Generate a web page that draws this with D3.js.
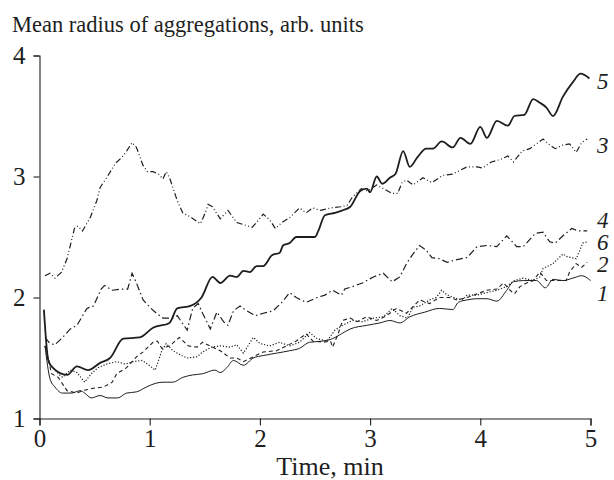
<!DOCTYPE html>
<meta charset="utf-8">
<style>
body { margin: 0; background: #fff; }
svg { font-family: "Liberation Serif", "Times New Roman", serif; }
</style>
<body>
<script src="https://cdn.jsdelivr.net/npm/d3@7"></script>
<script>

// [time (min), mean radius], one array per curve
var series1 = [[0.05,1.60],[0.095,1.33],[0.14,1.26],[0.21,1.21],[0.29,1.21],[0.37,1.23],[0.41,1.21],[0.47,1.17],[0.55,1.19],[0.62,1.17],[0.71,1.17],[0.79,1.21],[0.88,1.22],[0.97,1.26],[1.05,1.29],[1.12,1.30],[1.21,1.30],[1.30,1.34],[1.39,1.36],[1.48,1.37],[1.59,1.40],[1.64,1.38],[1.70,1.42],[1.76,1.48],[1.85,1.44],[1.94,1.50],[2.03,1.52],[2.15,1.54],[2.27,1.56],[2.36,1.58],[2.45,1.63],[2.57,1.64],[2.66,1.66],[2.74,1.70],[2.82,1.74],[2.97,1.77],[3.09,1.79],[3.18,1.81],[3.27,1.79],[3.36,1.84],[3.50,1.88],[3.63,1.91],[3.75,1.90],[3.80,1.96],[3.88,1.98],[3.97,1.99],[4.06,1.99],[4.15,1.97],[4.24,2.06],[4.30,2.13],[4.39,2.14],[4.51,2.14],[4.59,2.08],[4.66,2.15],[4.75,2.14],[4.84,2.16],[4.92,2.18],[5.00,2.14]];

var series2 = [[0.05,1.60],[0.11,1.37],[0.17,1.34],[0.25,1.23],[0.34,1.21],[0.39,1.23],[0.49,1.25],[0.58,1.26],[0.66,1.30],[0.70,1.37],[0.79,1.42],[0.88,1.51],[0.94,1.55],[1.03,1.63],[1.07,1.64],[1.11,1.58],[1.18,1.60],[1.27,1.67],[1.35,1.60],[1.43,1.59],[1.48,1.63],[1.57,1.59],[1.64,1.56],[1.73,1.50],[1.79,1.50],[1.85,1.47],[1.94,1.51],[2.03,1.55],[2.15,1.56],[2.24,1.60],[2.33,1.64],[2.42,1.70],[2.48,1.64],[2.57,1.63],[2.64,1.64],[2.66,1.59],[2.71,1.70],[2.75,1.81],[2.82,1.83],[2.88,1.80],[2.97,1.84],[3.06,1.81],[3.15,1.85],[3.24,1.91],[3.33,1.87],[3.45,1.98],[3.54,1.95],[3.63,2.00],[3.72,2.00],[3.79,1.98],[3.88,2.00],[3.97,2.03],[4.06,2.06],[4.15,2.07],[4.21,2.12],[4.27,2.06],[4.31,2.03],[4.36,2.09],[4.42,2.12],[4.48,2.14],[4.54,2.21],[4.60,2.14],[4.69,2.14],[4.78,2.14],[4.81,2.21],[4.87,2.28],[4.92,2.25],[4.97,2.29]];

var series3 = [[0.05,2.18],[0.095,2.20],[0.14,2.16],[0.20,2.21],[0.25,2.32],[0.29,2.47],[0.32,2.58],[0.35,2.59],[0.39,2.55],[0.46,2.66],[0.52,2.80],[0.55,2.91],[0.61,2.99],[0.69,3.11],[0.75,3.16],[0.79,3.21],[0.84,3.28],[0.88,3.24],[0.94,3.09],[0.98,3.04],[1.03,3.04],[1.08,3.02],[1.12,2.98],[1.15,3.04],[1.18,2.99],[1.25,2.80],[1.30,2.70],[1.38,2.66],[1.46,2.61],[1.50,2.69],[1.53,2.77],[1.57,2.75],[1.64,2.65],[1.71,2.72],[1.79,2.62],[1.86,2.60],[1.93,2.58],[1.97,2.62],[2.03,2.69],[2.09,2.64],[2.14,2.57],[2.20,2.62],[2.27,2.66],[2.36,2.74],[2.42,2.70],[2.48,2.74],[2.55,2.72],[2.64,2.74],[2.73,2.75],[2.79,2.76],[2.84,2.83],[2.92,2.90],[2.98,2.88],[3.06,2.93],[3.12,2.90],[3.20,2.86],[3.25,2.86],[3.29,2.95],[3.33,2.97],[3.39,2.93],[3.48,2.99],[3.56,2.95],[3.66,3.01],[3.75,3.02],[3.88,3.08],[3.97,3.08],[4.02,3.07],[4.10,3.12],[4.18,3.14],[4.25,3.17],[4.30,3.12],[4.38,3.21],[4.45,3.23],[4.57,3.31],[4.63,3.26],[4.68,3.23],[4.75,3.26],[4.81,3.27],[4.87,3.20],[4.92,3.28],[4.97,3.31]];

var series4 = [[0.05,1.67],[0.095,1.62],[0.14,1.61],[0.21,1.67],[0.28,1.74],[0.34,1.77],[0.43,1.91],[0.49,1.93],[0.56,2.07],[0.59,2.10],[0.66,2.06],[0.75,2.07],[0.80,2.07],[0.84,2.20],[0.88,2.12],[0.94,1.98],[1.00,1.92],[1.06,1.87],[1.12,1.83],[1.21,1.83],[1.25,1.85],[1.34,1.73],[1.39,1.91],[1.44,1.95],[1.48,1.87],[1.55,1.74],[1.61,1.88],[1.67,1.80],[1.71,1.77],[1.76,1.89],[1.82,1.93],[1.88,1.89],[1.96,1.85],[2.03,1.87],[2.12,1.89],[2.20,1.96],[2.27,2.04],[2.33,2.00],[2.42,1.96],[2.52,2.00],[2.59,2.02],[2.66,2.06],[2.74,2.02],[2.77,2.07],[2.84,2.09],[2.93,2.12],[3.03,2.17],[3.12,2.20],[3.20,2.13],[3.27,2.17],[3.33,2.28],[3.39,2.36],[3.45,2.43],[3.51,2.39],[3.56,2.33],[3.63,2.32],[3.70,2.29],[3.77,2.31],[3.88,2.33],[3.97,2.42],[4.06,2.43],[4.15,2.42],[4.24,2.51],[4.33,2.42],[4.39,2.42],[4.50,2.53],[4.57,2.54],[4.63,2.46],[4.68,2.45],[4.75,2.51],[4.83,2.57],[4.89,2.55],[4.97,2.55]];

var series5 = [[0.04,1.90],[0.08,1.48],[0.12,1.42],[0.25,1.36],[0.34,1.43],[0.44,1.40],[0.55,1.46],[0.64,1.50],[0.76,1.66],[0.91,1.67],[1.03,1.75],[1.18,1.79],[1.25,1.91],[1.37,1.93],[1.47,2.00],[1.57,2.17],[1.64,2.12],[1.73,2.18],[1.79,2.17],[1.85,2.22],[1.91,2.21],[1.97,2.26],[2.03,2.26],[2.11,2.35],[2.18,2.37],[2.21,2.43],[2.27,2.45],[2.33,2.50],[2.50,2.50],[2.53,2.55],[2.59,2.68],[2.68,2.70],[2.75,2.72],[2.82,2.75],[2.91,2.88],[2.97,2.90],[3.00,2.87],[3.06,3.00],[3.11,2.94],[3.18,2.99],[3.23,3.02],[3.30,3.21],[3.36,3.08],[3.43,3.16],[3.51,3.23],[3.57,3.23],[3.65,3.29],[3.75,3.24],[3.82,3.32],[3.91,3.27],[4.00,3.41],[4.06,3.32],[4.15,3.46],[4.25,3.42],[4.31,3.50],[4.40,3.51],[4.48,3.64],[4.54,3.61],[4.60,3.57],[4.66,3.50],[4.75,3.66],[4.84,3.78],[4.91,3.85],[4.99,3.81]];

var series6 = [[0.05,1.60],[0.095,1.45],[0.17,1.37],[0.21,1.34],[0.28,1.40],[0.34,1.38],[0.41,1.30],[0.47,1.37],[0.53,1.42],[0.61,1.45],[0.70,1.47],[0.78,1.45],[0.85,1.47],[0.93,1.48],[0.98,1.45],[1.05,1.40],[1.11,1.56],[1.15,1.62],[1.21,1.56],[1.29,1.52],[1.34,1.50],[1.43,1.51],[1.48,1.55],[1.56,1.59],[1.64,1.60],[1.73,1.59],[1.79,1.61],[1.85,1.54],[1.94,1.67],[2.00,1.62],[2.09,1.60],[2.18,1.63],[2.27,1.60],[2.36,1.63],[2.45,1.71],[2.52,1.66],[2.61,1.64],[2.68,1.73],[2.75,1.77],[2.84,1.81],[2.93,1.80],[3.03,1.83],[3.12,1.84],[3.20,1.91],[3.27,1.85],[3.34,1.83],[3.39,1.92],[3.45,1.93],[3.54,1.98],[3.60,2.00],[3.65,2.06],[3.70,2.02],[3.79,1.99],[3.84,1.98],[3.88,2.02],[3.97,2.02],[4.06,2.04],[4.15,2.06],[4.24,2.09],[4.31,2.14],[4.39,2.16],[4.48,2.14],[4.54,2.17],[4.57,2.24],[4.66,2.28],[4.75,2.36],[4.78,2.34],[4.87,2.32],[4.93,2.45],[4.97,2.46]];

var xTicks = [0, 1, 2, 3, 4, 5];
var yTicks = [1, 2, 3, 4];
var curveNames = ["5", "3", "4", "6", "2", "1"];
// vertical place of each curve number, in radius units
var curveLabelY = [3.79, 3.26, 2.64, 2.46, 2.28, 2.04];

var width = 614, height = 480;
var ink = "#1e1e1e";

var x = d3.scaleLinear().domain([0, 5]).range([39.5, 590.5]);
var y = d3.scaleLinear().domain([1, 4]).range([418.5, 55.5]);

var svg = d3.select("body").append("svg")
    .attr("width", width)
    .attr("height", height);

// axes
svg.append("g")
    .attr("transform", "translate(0," + y(1) + ")")
    .call(d3.axisBottom(x).tickValues(xTicks).tickFormat(d3.format("d"))
      .tickSizeOuter(0).tickSize(7).tickPadding(4));
svg.append("g")
    .attr("transform", "translate(" + x(0) + ",0)")
    .call(d3.axisLeft(y).tickValues(yTicks).tickFormat(d3.format("d"))
      .tickSizeOuter(0).tickSize(6).tickPadding(8));

svg.selectAll(".domain").attr("stroke", ink).attr("stroke-width", 1.1);
svg.selectAll(".tick line").attr("stroke", ink).attr("stroke-width", 1.1);
svg.selectAll(".tick text")
    .attr("fill", ink)
    .style("font-family", "'Liberation Serif', serif")
    .style("font-size", "25px");

// curves
var line = d3.line()
    .x(function(d) { return x(d[0]); })
    .y(function(d) { return y(d[1]); });

var curves = [
  {data: series1, width: 1.0, dash: null,                curve: d3.curveMonotoneX},
  {data: series2, width: 1.1, dash: "4,3",               curve: d3.curveLinear},
  {data: series3, width: 1.2, dash: "6,2.5,1,2.5,1,2.5", curve: d3.curveLinear},
  {data: series4, width: 1.2, dash: "7,3,1.5,3",         curve: d3.curveLinear},
  {data: series5, width: 1.8, dash: null,                curve: d3.curveMonotoneX},
  {data: series6, width: 1.2, dash: "1.2,1.8",           curve: d3.curveLinear}
];

curves.forEach(function(c) {
  svg.append("path")
      .datum(c.data)
      .attr("fill", "none")
      .attr("stroke", ink)
      .attr("stroke-width", c.width)
      .attr("stroke-dasharray", c.dash)
      .attr("d", line.curve(c.curve));
});

// curve numbers
svg.selectAll(".curve-label")
  .data(curveNames)
  .enter().append("text")
    .attr("class", "curve-label")
    .attr("x", 597)
    .attr("y", function(d, i) { return y(curveLabelY[i]); })
    .attr("dy", "0.35em")
    .attr("fill", ink)
    .style("font-style", "italic")
    .style("font-size", "23px")
    .text(function(d) { return d; });

// axis titles
svg.append("text")
    .attr("x", 12)
    .attr("y", 32)
    .attr("fill", ink)
    .style("font-size", "22.5px")
    .text("Mean radius of aggregations, arb. units");

svg.append("text")
    .attr("x", 330)
    .attr("y", 475)
    .attr("text-anchor", "middle")
    .attr("fill", ink)
    .style("font-size", "26px")
    .text("Time, min");

</script>
</body>
